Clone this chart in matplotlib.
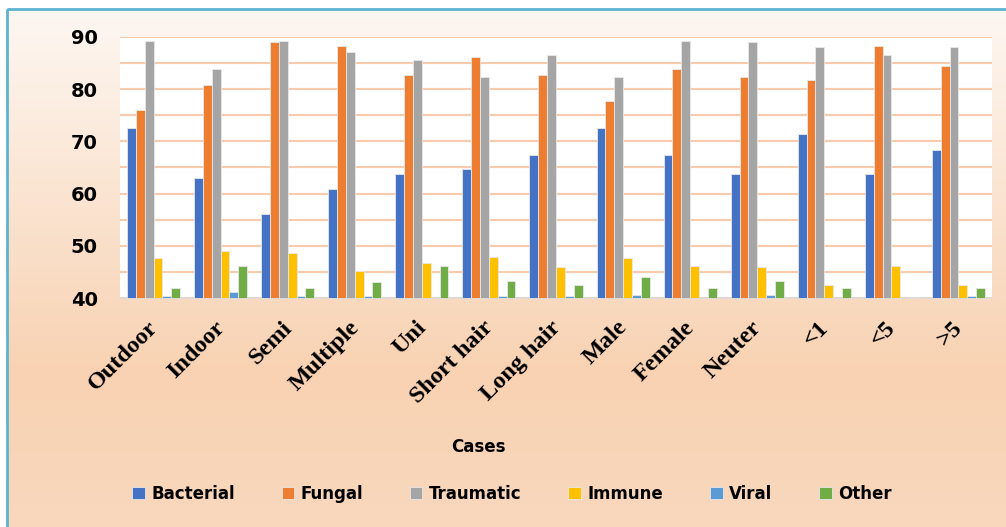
import numpy as np
import matplotlib
matplotlib.use("Agg")
import matplotlib.pyplot as plt
from matplotlib.patches import Rectangle
import matplotlib.transforms as mtransforms

categories = ["Outdoor", "Indoor", "Semi", "Multiple", "Uni", "Short hair", "Long hair",
              "Male", "Female", "Neuter", "<1", "<5", ">5"]
bacterial = [72.5, 63.0, 56.0, 60.9, 63.8, 64.8, 67.3, 72.5, 67.3, 63.8, 71.5, 63.8, 68.3]
fungal    = [76.0, 80.9, 89.0, 88.3, 82.7, 86.2, 82.7, 77.8, 83.8, 82.4, 81.7, 88.3, 84.4]
traumatic = [89.3, 83.8, 89.3, 87.2, 85.5, 82.4, 86.6, 82.4, 89.3, 89.0, 88.0, 86.6, 88.0]
immune    = [47.6, 49.0, 48.7, 45.2, 46.8, 47.9, 45.9, 47.6, 46.2, 45.9, 42.4, 46.2, 42.4]
viral     = [40.3, 41.2, 40.3, 40.3, 0, 40.3, 40.3, 40.6, 0, 40.6, 0, 0, 40.3]
other     = [42.0, 46.2, 42.0, 43.0, 46.2, 43.3, 42.4, 44.1, 42.0, 43.3, 42.0, 40.25, 42.0]

series = [("Bacterial", bacterial, "#4472C4"),
          ("Fungal", fungal, "#ED7D31"),
          ("Traumatic", traumatic, "#A5A5A5"),
          ("Immune", immune, "#FFC000"),
          ("Viral", viral, "#5B9BD5"),
          ("Other", other, "#70AD47")]

W, H = 1006, 527
fig = plt.figure(figsize=(W / 100, H / 100), dpi=100)
fig.patch.set_facecolor("white")

# background gradient
bg = fig.add_axes([0, 0, 1, 1], zorder=-10)
bg.set_xlim(0, W)
bg.set_ylim(H, 0)
bg.axis("off")
ys = np.linspace(0, 1, 200)[:, None]
top = np.array([253, 247, 242]) / 255
mid = np.array([248, 210, 178]) / 255
bot = np.array([249, 216, 190]) / 255
t = ys[:, 0]
cols = np.where(t[:, None] < 0.7,
                top + (mid - top) * (t[:, None] / 0.7),
                mid + (bot - mid) * ((t[:, None] - 0.7) / 0.3))
grad = np.repeat(cols[:, None, :], 2, axis=1)
bg.imshow(grad, extent=[7, W + 5, H + 5, 9], aspect="auto", zorder=0)
bg.add_patch(Rectangle((7, 9), W + 20, H + 20, fill=False, edgecolor="#5BB4D0", lw=2, zorder=1))

ax = fig.add_axes([120 / W, 1 - 298 / H, (992 - 120) / W, (298 - 37) / H])
ax.set_facecolor("white")

x = np.arange(len(categories))
bw = 0.132
for i, (name, vals, c) in enumerate(series):
    ax.bar(x + (i - 2.5) * bw, vals, width=bw, color=c, label=name,
           edgecolor="#E8E8E8", linewidth=0.6, zorder=3)

ax.set_xlim(-0.5, len(categories) - 0.5)
ax.set_ylim(40, 90)
ax.set_yticks(np.arange(40, 91, 10))
ax.set_yticks(np.arange(45, 90, 10), minor=True)
ax.grid(axis="y", which="both", color="#F8CBAD", lw=1.5, zorder=0)
for s in ["top", "right", "left"]:
    ax.spines[s].set_visible(False)
ax.spines["bottom"].set_color("#D9D9D9")
ax.spines["bottom"].set_linewidth(1.2)
ax.tick_params(axis="y", which="both", length=0, pad=16)
ax.tick_params(axis="x", length=0, pad=19)
for lab in ax.get_yticklabels():
    lab.set_fontsize(14)
    lab.set_fontweight("bold")
    lab.set_fontfamily("DejaVu Sans")

ax.set_xticks(x)
ax.set_xticklabels(categories, rotation=45, ha="right", rotation_mode="anchor",
                   fontsize=17.5, fontweight="bold", fontfamily="Liberation Serif")
offset = mtransforms.ScaledTranslation(1 / 100, 0, fig.dpi_scale_trans)
for lab in ax.get_xticklabels():
    lab.set_transform(lab.get_transform() + offset)
    lab.set_va("center")

fig.text(478 / W, 1 - 447 / H, "Cases", ha="center", va="center",
         fontsize=12, fontweight="bold", fontfamily="DejaVu Sans")

leg = fig.legend(loc="center", bbox_to_anchor=(512 / W, 1 - 494 / H), ncol=6,
                 frameon=False, prop={"family": "DejaVu Sans", "weight": "bold", "size": 12},
                 handlelength=0.75, handleheight=0.75, handletextpad=0.4, columnspacing=2.8)

fig.savefig("out.png", dpi=100)
